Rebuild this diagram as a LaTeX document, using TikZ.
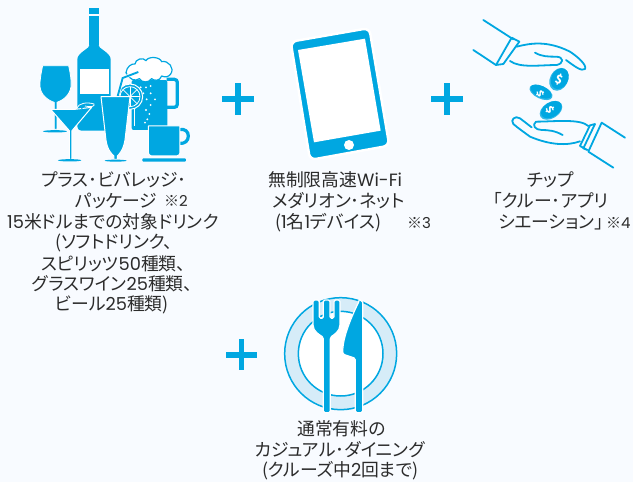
\documentclass[tikz,border=0pt]{standalone}
\usepackage{fontspec}
\setmainfont[RawFeature={+palt}]{Noto Sans CJK JP}
\newfontfamily\numf{Poppins}
\newcommand{\nm}[1]{{\numf #1}}
\definecolor{bgc}{HTML}{F8FBFF}
\definecolor{blu}{HTML}{00A7E1}
\definecolor{plt}{HTML}{D6ECF8}
\definecolor{txt}{HTML}{2B2B2B}
\tikzset{
 lbl/.style={anchor=west,inner sep=0pt,text=txt,font=\fontsize{17.8}{18}\selectfont},
 mark3/.style={anchor=west,inner sep=0pt,text=txt,font=\fontsize{15}{15}\selectfont},
 edged/.style={fill=blu,draw=white,line width=0.8pt,line join=round},
 handline/.style={draw=blu,line width=1.8pt,line cap=round,line join=round,fill=none},
 coin/.style={fill=blu!80!white},
 coinmark/.style={text=white,inner sep=0pt,font=\bfseries\fontsize{12}{12}\selectfont},
 plus/.style={draw=blu,line width=5.5pt},
}
\begin{document}
\begin{tikzpicture}[x=1pt,y=-1pt]
\useasboundingbox (0,0) rectangle (633,482);
\fill[bgc] (0,0) rectangle (633,482);
% plus signs
\draw[plus] (222,99)--(254,99) (238,83)--(238,115);
\draw[plus] (431,99)--(463,99) (447,83)--(447,115);
\draw[plus] (226,355)--(257,355) (241.5,339)--(241.5,370);
% drinks
\begin{scope}[shift={(20,0)},scale=1/3]
 % bottle
 \fill[blu] (206,24) rectangle (238,42);
 \fill[blu] (206,47) rectangle (238,135);
 \fill[blu,rounded corners=4pt] (172,392) -- (172,190) .. controls (172,160) and (206,145) .. (206,128) -- (238,128) .. controls (238,145) and (272,160) .. (272,190) -- (272,392) -- cycle;
 \fill[white] (180,207) rectangle (268,282);
 % wine glass
 \draw[edged] (68,197) -- (146,197) .. controls (150,215) and (155,240) .. (153,260) .. controls (150,285) and (128,302) .. (111,307) -- (111,388) -- (103,388) -- (103,307) .. controls (85,302) and (62,285) .. (60,260) .. controls (59,240) and (64,215) .. (68,197) -- cycle;
 \fill[blu] (105,394) ellipse [x radius=36,y radius=3.5];
 % mug
 \draw[blu,line width=3.3pt,rounded corners=3pt] (440,238) -- (472,238) -- (472,322) -- (440,322);
 \fill[blu,rounded corners=2pt] (335,240) -- (442,240) -- (442,390) -- (335,390) -- cycle;
 \foreach \px/\py in {362/262, 378/262, 392/258, 370/280, 392/280, 380/298, 392/315, 378/330, 388/342, 382/358, 375/368, 405/298, 350/270}{
  \fill[white] (\px,\py) circle (3.2);}
 % foam
 \draw[fill=white,draw=blu,line width=1.2pt,line join=round] (318,218) .. controls (320,200) and (335,190) .. (345,192) .. controls (345,178) and (370,170) .. (378,182) .. controls (385,168) and (420,170) .. (425,185) .. controls (445,180) and (465,205) .. (452,222) .. controls (445,232) and (435,232) .. (425,228) .. controls (420,245) and (400,242) .. (395,236) .. controls (385,250) and (365,248) .. (358,236) .. controls (345,245) and (330,240) .. (318,218) -- cycle;
 % lemon
 \draw[fill=blu,draw=white,line width=1pt] (330,290) circle (38);
 \draw[white,line width=.8pt] (330,290) circle (30);
 \foreach \a in {0,45,...,315}{\draw[white,line width=.8pt] (330,290) -- ++(\a:30);}
 % straw
 \draw[white,line width=3.4pt] (292,292) -- (308,234) -- (355,216);
 \draw[blu,line width=1.9pt] (292,292) -- (308,234) -- (355,216);
 \draw[white,line width=1pt] (345,325) -- (345,378);
 % martini
 \draw[edged,line width=1pt] (92,328) -- (165,328) -- (215,322) -- (156,392) -- (156,478) -- (148,478) -- (148,392) -- cycle;
 \fill[blu] (149,481) ellipse [x radius=35,y radius=3.5];
 \fill[blu] (178,312) -- (212,308) -- (220,316) -- (195,318) -- (185,328) -- cycle;
 \draw[white,line width=.8pt] (170,325) .. controls (175,310) and (200,305) .. (222,312) .. controls (226,320) and (210,322) .. (195,318);
 % tall glass
 \draw[edged,line width=1pt] (243,290) -- (330,290) -- (315,420) .. controls (310,450) and (298,462) .. (292,468) -- (292,478) -- (282,478) -- (282,468) .. controls (275,462) and (262,450) .. (258,420) -- cycle;
 \fill[blu] (287,482) ellipse [x radius=33,y radius=3];
 % coffee cup
 \draw[blu,line width=3.2pt] (478,389) .. controls (495,385) and (505,395) .. (505,408) .. controls (505,422) and (495,432) .. (478,430);
 \draw[edged,line width=1pt] (385,378) -- (480,378) -- (480,455) .. controls (480,465) and (475,468) .. (465,468) -- (400,468) .. controls (390,468) and (385,465) .. (385,455) -- cycle;
 \fill[blu,rounded corners=1pt] (367,475) rectangle (498,485);
\end{scope}
% tablet
\begin{scope}[shift={(270,0)},scale=1/3]
 \draw[fill=blu,rounded corners=6pt,draw=white,line width=2.5pt] (62,125) -- (298,84) -- (358,437) -- (120,480) -- cycle;
 \fill[white] (84,150) -- (285,116) -- (332,392) -- (132,427) -- cycle;
 \fill[white] (237,435) circle (15);
\end{scope}
% hands
\begin{scope}[shift={(460,0)},scale=1/3]
 \draw[handline] (70,60) -- (160,118) (40,150) -- (108,195);
 \draw[handline] (108,195) -- (155,113) -- (178,125) -- (130,192) -- cycle;
 \draw[handline] (170,140) .. controls (210,130) and (260,120) .. (330,155) .. controls (350,168) and (382,195) .. (375,207) .. controls (365,215) and (345,200) .. (318,180);
 \draw[handline] (150,183) .. controls (180,205) and (240,195) .. (290,195) .. controls (312,190) and (312,172) .. (290,170) .. controls (265,170) and (245,170) .. (225,158);
 \draw[handline] (495,413) -- (425,368) -- (385,455) (460,503) -- (385,455);
 \draw[handline] (382,450) -- (360,438) -- (390,376) -- (405,372) -- (370,445) -- cycle;
 \draw[handline] (385,378) .. controls (360,355) and (280,365) .. (228,365) .. controls (215,375) and (225,390) .. (245,390) .. controls (265,390) and (285,392) .. (308,405);
 \draw[handline] (360,424) .. controls (320,438) and (270,435) .. (210,410) .. controls (190,395) and (175,385) .. (160,372) .. controls (150,360) and (165,345) .. (180,355) -- (215,382);
 \fill[coin,rotate around={62:(297,238)}] (297,238) ellipse [x radius=36,y radius=27];
 \fill[coin,rotate around={-25:(243,277)}] (243,277) ellipse [x radius=37,y radius=19];
 \fill[coin,rotate around={32:(273,331)}] (273,331) ellipse [x radius=37,y radius=24];
 \fill[blu,rotate around={62:(299,236)}] (299,236) ellipse [x radius=33,y radius=25];
 \fill[blu,rotate around={-25:(243,275)}] (243,275) ellipse [x radius=34,y radius=17];
 \fill[blu,rotate around={32:(274,329)}] (274,329) ellipse [x radius=34,y radius=22];
 \node[coinmark,rotate=-20] (coina) at (297,238) {\$};
 \node[coinmark,rotate=-70,yscale=.7] (coinb) at (242,282) {\$};
 \node[coinmark,rotate=-60,yscale=.8] (coinc) at (272,330) {\$};
\end{scope}
% plate
\begin{scope}[shift={(220,290)},scale=1/3]
 \draw[blu,fill=plt,line width=1.5pt] (362,191) circle (168);
 \draw[blu,fill=white,line width=1.5pt] (362,191) circle (127);
 \draw[edged,line join=round,line width=1.2pt,rounded corners=1.5pt] (279,30) -- (298,30) -- (298,85) -- (310,85) -- (310,30) -- (330,30) -- (330,85) -- (342,85) -- (342,30) -- (360,30) -- (360,100) .. controls (360,125) and (340,135) .. (331,142) -- (331,368) -- (310,368) -- (310,142) .. controls (300,135) and (279,125) .. (279,100) -- cycle;
 \draw[edged,line join=round,line width=1.2pt,rounded corners=1.5pt] (418,32) -- (428,32) -- (428,368) -- (406,368) -- (406,205) -- (368,192) .. controls (368,140) and (395,80) .. (418,32) -- cycle;
\end{scope}
% labels
\node[lbl] (a1) at (41,179.5) {プラス･ビバレッジ･};
\node[lbl] (a2) at (75,200.5) {パッケージ};
\node[mark3] (a2n) at (164,200.5) {※\nm{2}};
\node[lbl] (a3) at (7,221.5) {\nm{15}米ドルまでの対象ドリンク};
\node[lbl] (a4) at (55,242.5) {(ソフトドリンク、};
\node[lbl] (a5) at (41,263.5) {スピリッツ\nm{50}種類、};
\node[lbl] (a6) at (32,284) {グラスワイン\nm{25}種類、};
\node[lbl] (a7) at (55,305) {ビール\nm{25}種類)};
\node[lbl] (b1) at (268,179.5) {無制限高速\nm{Wi-Fi}};
\node[lbl] (b2) at (272,200.5) {メダリオン･ネット};
\node[lbl] (b3) at (275,222.5) {(\nm{1}名\nm{1}デバイス)};
\node[mark3] (b3n) at (407,222.5) {※\nm{3}};
\node[lbl] (c1) at (527,179.5) {チップ};
\node[lbl] (c2) at (493,200.5) {「クルー･アプリ};
\node[lbl] (c3) at (498,222.5) {シエーション」\kern-.4em};
\node[mark3] (c3n) at (606,222.5) {※\nm{4}};
\node[lbl] (d1) at (297,429) {通常有料の};
\node[lbl] (d2) at (255,450) {カジュアル･ダイニング};
\node[lbl] (d3) at (262,471) {(クルーズ中\nm{2}回まで)};
\end{tikzpicture}
\end{document}
